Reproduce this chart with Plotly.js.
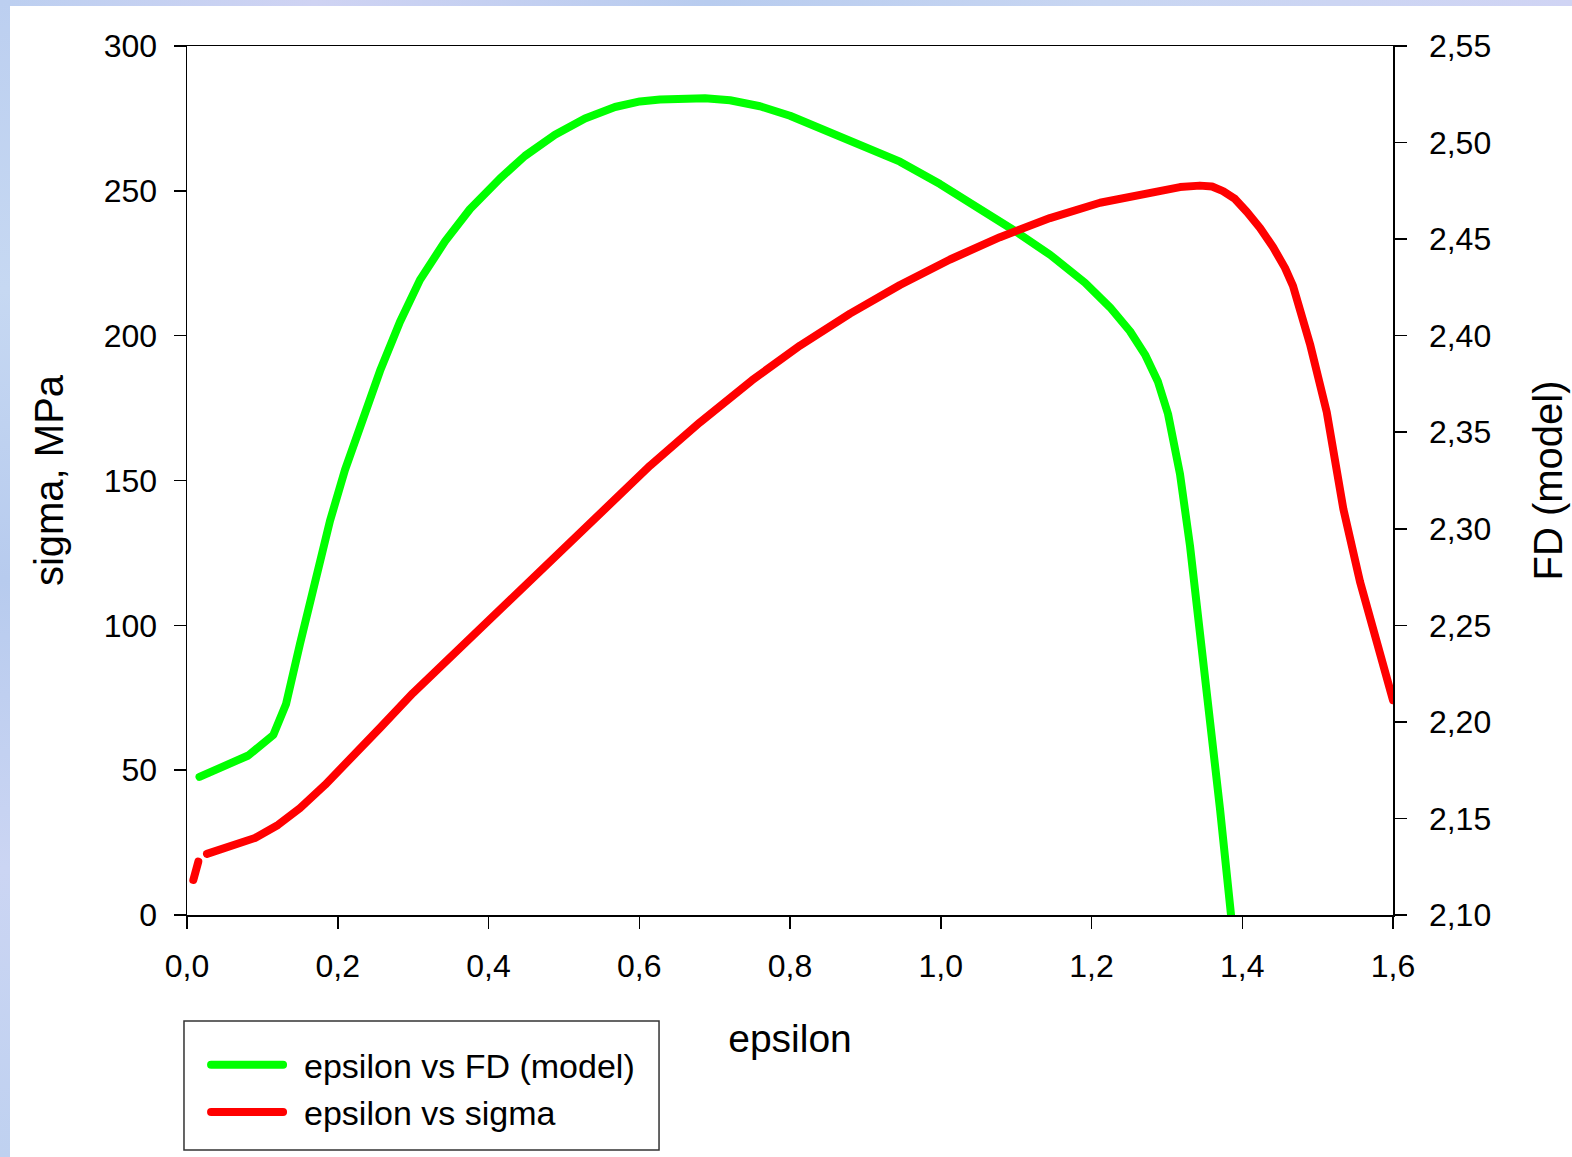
<!DOCTYPE html>
<html><head><meta charset="utf-8">
<script src="https://cdn.plot.ly/plotly-3.0.1.min.js"></script>
<style>
html,body{margin:0;padding:0;background:#fff;width:1572px;height:1157px;overflow:hidden}
#bgTop{position:absolute;left:0;top:0;width:1572px;height:6px;background:linear-gradient(90deg,#bccff0,#cfd3f3 20%,#b8ccef 45%,#c8d6f2 70%,#d0d4f4)}
#bgLeft{position:absolute;left:0;top:0;width:10px;height:1157px;background:linear-gradient(180deg,#bccff0,#c6d8f2 25%,#b7cbee 50%,#cbd5f3 75%,#bfd1f0)}
#chart{position:absolute;left:0;top:0;width:1572px;height:1157px}
.scatterlayer path.js-line{stroke-linecap:round;stroke-linejoin:round}
.legend path.js-line{stroke-linecap:round !important;stroke-dasharray:72 600 !important}
</style></head><body>
<div id="bgTop"></div><div id="bgLeft"></div><div id="chart"></div>
<script>
// epsilon vs FD (model) — right axis
const fdEps = [0.0166,0.0813,0.1145,0.1313,0.1499,0.1698,0.1897,0.2096,0.2295,0.2561,0.2826,0.3091,0.3423,0.3755,0.4153,0.4484,0.4882,0.5280,0.5678,0.6010,0.6275,0.6872,0.7204,0.7602,0.8000,0.8663,0.9459,0.9990,1.0521,1.0985,1.1450,1.1914,1.2245,1.2511,1.2710,1.2882,1.3015,1.3174,1.3307,1.3439,1.3572,1.3705,1.3851];
const fdVal = [2.1715,2.1826,2.1932,2.2091,2.2404,2.2738,2.3041,2.3305,2.3538,2.3818,2.4072,2.4289,2.4488,2.4656,2.4814,2.4931,2.5040,2.5125,2.5184,2.5213,2.5223,2.5230,2.5219,2.5188,2.5139,2.5035,2.4901,2.4785,2.4661,2.4542,2.4419,2.4274,2.4147,2.4023,2.3902,2.3761,2.3595,2.3284,2.2911,2.2471,2.2015,2.1549,2.1000];
// epsilon vs sigma — left axis (null = gap in the measured curve)
const sigEps = [0.0084,0.0150,0.0200,0.0265,0.0570,0.0902,0.1207,0.1499,0.1831,0.2136,0.2561,0.2998,0.3887,0.4772,0.5479,0.6143,0.6806,0.7496,0.8133,0.8796,0.9459,1.0123,1.0786,1.1449,1.2113,1.2776,1.3174,1.3439,1.3599,1.3745,1.3904,1.4063,1.4236,1.4408,1.4567,1.4673,1.4899,1.5121,1.5341,1.5562,1.5784,1.6000];
const sigVal = [12.1,18.4,null,21.1,23.5,26.6,31.1,36.9,44.9,53.5,64.6,76.6,98.8,121.5,139.2,155.1,170.1,184.6,196.6,207.6,217.5,226.3,234.0,240.6,245.9,249.7,251.3,251.8,251.5,249.9,247.2,242.7,237.2,230.6,223.4,217.2,197.1,173.6,140.2,115.1,94.9,74.2];
const xTicks = [0,0.2,0.4,0.6,0.8,1.0,1.2,1.4,1.6];
const sigTicks = [0,50,100,150,200,250,300];
const fdTicks = [2.10,2.15,2.20,2.25,2.30,2.35,2.40,2.45,2.50,2.55];

const FONT = 'Liberation Sans, Arial, sans-serif';
const axisCommon = {
  showgrid:false, zeroline:false, showline:true, linecolor:'#000', linewidth:1.5,
  ticks:'outside', ticklen:12, tickwidth:1.5, tickcolor:'#000',
  tickfont:{family:FONT,size:32,color:'#000'}
};
const traces = [
  {x:fdEps, y:fdVal, type:'scatter', mode:'lines', name:'epsilon vs FD (model)',
   yaxis:'y', line:{color:'#00ff00', width:8}},
  {x:sigEps, y:sigVal, type:'scatter', mode:'lines', name:'epsilon vs sigma',
   yaxis:'y2', connectgaps:false, line:{color:'#ff0000', width:8}}
];
const layout = {
  width:1572, height:1157,
  margin:{l:187, r:179, t:46, b:242, pad:0},
  paper_bgcolor:'rgba(0,0,0,0)', plot_bgcolor:'#fff',
  separators:',.',
  showlegend:true,
  font:{family:FONT,color:'#000'},
  xaxis:Object.assign({}, axisCommon, {range:[0,1.6], tickvals:xTicks, tickformat:'.1f', mirror:true,
    ticklabelstandoff:10,
    title:{text:'epsilon', font:{family:FONT,size:39,color:'#000'}, standoff:42}}),
  yaxis:Object.assign({}, axisCommon, {range:[2.10,2.55], tickvals:fdTicks, tickformat:'.2f', side:'right',
    ticklabelstandoff:16,
    title:{text:'FD (model)', font:{family:FONT,size:40,color:'#000'}, standoff:44}}),
  yaxis2:Object.assign({}, axisCommon, {range:[0,300], tickvals:sigTicks, side:'left', overlaying:'y',
    ticklabelstandoff:10,
    title:{text:'sigma, MPa', font:{family:FONT,size:40,color:'#000'}, standoff:27}}),
  shapes:[{type:'rect', xref:'paper', yref:'paper', layer:'below',
    x0:-0.0025, x1:0.3914, y0:-0.2704, y1:-0.1220,
    line:{color:'#333', width:1.5}, fillcolor:'#fff'}],
  legend:{x:0.0158, y:-0.1394, xanchor:'left', yanchor:'top', bgcolor:'rgba(0,0,0,0)',
    borderwidth:0, font:{family:FONT,size:34,color:'#000'},
    itemwidth:88, tracegroupgap:0}
};
Plotly.newPlot('chart', traces, layout, {displayModeBar:false, staticPlot:true});
</script>
</body></html>
